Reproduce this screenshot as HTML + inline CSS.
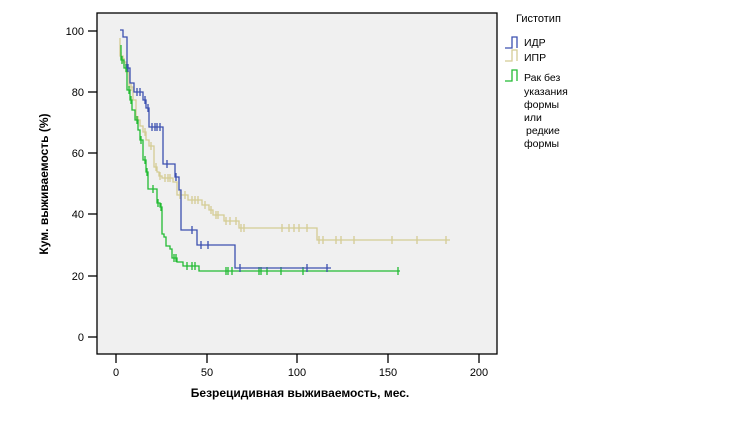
<!DOCTYPE html>
<html><head><meta charset="utf-8"><style>
body{margin:0;background:#fff;}
svg{display:block;font-family:"Liberation Sans",sans-serif;}
</style></head><body>
<svg id="s" width="742" height="422" viewBox="0 0 742 422">
<rect x="97" y="13" width="400" height="341" fill="#f0f0f0" stroke="#000" stroke-width="1.3"/>
<g stroke="#000" stroke-width="1.3">
<line x1="88" y1="31" x2="97" y2="31"/><line x1="88" y1="92" x2="97" y2="92"/>
<line x1="88" y1="153" x2="97" y2="153"/><line x1="88" y1="214" x2="97" y2="214"/>
<line x1="88" y1="276" x2="97" y2="276"/><line x1="88" y1="337" x2="97" y2="337"/>
<line x1="116" y1="354" x2="116" y2="363"/><line x1="207" y1="354" x2="207" y2="363"/>
<line x1="297" y1="354" x2="297" y2="363"/><line x1="388" y1="354" x2="388" y2="363"/>
<line x1="479" y1="354" x2="479" y2="363"/>
</g>
<g font-size="11" text-anchor="end" fill="#000">
<text x="84" y="35">100</text><text x="84" y="96">80</text><text x="84" y="157">60</text>
<text x="84" y="218">40</text><text x="84" y="280">20</text><text x="84" y="341">0</text>
</g>
<g font-size="11" text-anchor="middle" fill="#000">
<text x="116" y="376">0</text><text x="207" y="376">50</text><text x="297" y="376">100</text>
<text x="388" y="376">150</text><text x="479" y="376">200</text>
</g>
<text x="300" y="397" font-size="12" font-weight="bold" text-anchor="middle">Безрецидивная выживаемость,  мес.</text>
<text transform="translate(48,184) rotate(-90)" font-size="12" font-weight="bold" text-anchor="middle">Кум.  выживаемость (%)</text>
<g id="curves" fill="none" stroke-width="1.3"></g>

<text x="516" y="22" font-size="11">Гистотип</text>
<g fill="none" stroke-width="1.3">
<polyline stroke="#3c50b0" points="505,48 512,48 512,37 517,37 517,48"/>
<polyline stroke="#d4cc94" points="505,61 512,61 512,50 517,50 517,61"/>
<polyline stroke="#22bb33" points="505,81 512,81 512,70 517,70 517,81"/>
</g>
<g font-size="10.5" fill="#000">
<text x="524" y="46">ИДР</text><text x="524" y="61">ИПР</text>
<text x="524" y="81">Рак без</text><text x="524" y="95">указания</text>
<text x="524" y="108">формы</text><text x="524" y="121">или</text>
<text x="526" y="134">редкие</text><text x="524" y="147">формы</text>
</g>
</svg>
<script>
var series=[
{c:"#d4cc94",p:[[120,38],[120,56],[123,56],[123,62],[126,62],[126,72],[129,72],[129,87],[133,87],[133,100],[136,100],[136,120],[140,120],[140,126],[143,126],[143,132],[146,132],[146,140],[149,140],[149,146],[154,146],[154,167],[157,167],[157,172],[159,172],[159,176],[162,176],[162,178],[173,178],[173,182],[177,182],[177,195],[188,195],[188,200],[202,200],[202,205],[209,205],[209,210],[213,210],[213,215],[224,215],[224,221],[239,221],[239,228],[317,228],[317,240],[450,240]],
 t:[121,124,131,138,145,151,156,160,165,168,170,180,185,192,195,198,205,211,216,218,226,230,236,241,244,282,289,294,299,307,319,323,336,341,354,392,417,446]},
{c:"#22bb33",p:[[121,45],[121,60],[124,60],[124,68],[127,68],[127,90],[130,90],[130,100],[132,100],[132,110],[135,110],[135,120],[138,120],[138,130],[140,130],[140,140],[143,140],[143,160],[146,160],[146,172],[148,172],[148,189],[157,189],[157,203],[160,203],[160,207],[162,207],[162,234],[164,234],[164,237],[166,237],[166,246],[170,246],[170,249],[172,249],[172,258],[177,258],[177,262],[183,262],[183,266],[199,266],[199,271],[400,271]],
 t:[122,126,129,131,137,141,145,147,153,158,161,174,176,187,192,195,226,228,232,259,261,267,281,303,398]},
{c:"#3c50b0",p:[[120,30],[123,30],[123,37],[127,37],[127,68],[130,68],[130,83],[134,83],[134,92],[143,92],[143,100],[146,100],[146,108],[149,108],[149,127],[163,127],[163,164],[175,164],[175,177],[179,177],[179,190],[181,190],[181,230],[197,230],[197,245],[235,245],[235,268],[331,268]],
 t:[128,137,140,145,148,152,155,157,160,167,176,192,201,208,240,307,327]}
];
var g=document.getElementById("curves"),ns="http://www.w3.org/2000/svg";
function yAt(p,x){var y=p[0][1];for(var i=0;i<p.length;i++){if(p[i][0]<=x)y=p[i][1];else break;}return y;}
series.forEach(function(s){
 var pl=document.createElementNS(ns,"polyline");
 pl.setAttribute("points",s.p.map(function(q){return q.join(",")}).join(" "));
 pl.setAttribute("stroke",s.c);g.appendChild(pl);
 var d="";s.t.forEach(function(x){var y=yAt(s.p,x+0.01);d+="M"+x+","+(y-4)+"v8";});
 var pa=document.createElementNS(ns,"path");pa.setAttribute("d",d);pa.setAttribute("stroke",s.c);g.appendChild(pa);
});
</script>
</body></html>
